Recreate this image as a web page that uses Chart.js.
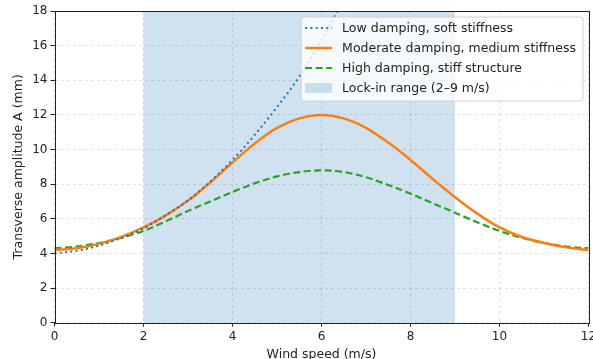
<!DOCTYPE html>
<html>
<head>
<meta charset="utf-8">
<script src="https://cdn.jsdelivr.net/npm/chart.js@4.4.1/dist/chart.umd.min.js"></script>
<style>
  html, body { margin: 0; padding: 0; background: #fff; }
</style>
</head>
<body>
<canvas id="Chart" width="593" height="359"></canvas>
<script>
// values
const windSpeed = [0, 0.5, 1, 1.5, 2, 2.5, 3, 3.5, 4, 4.5, 5, 5.5, 6, 6.5,
    7, 7.5, 8, 8.5, 9, 9.5, 10, 10.5, 11, 11.5, 12];
const lowDamping = [4.0, 4.15, 4.45, 4.9, 5.45, 6.2, 7.05, 8.15, 9.4, 10.85,
    12.45, 14.2, 16.3, 18.7];
const moderateDamping = [4.2, 4.3, 4.55, 4.95, 5.5, 6.2, 7.05, 8.1, 9.25, 10.35,
    11.25, 11.8, 12.0, 11.8, 11.25, 10.4, 9.4, 8.3, 7.25, 6.3, 5.5, 4.95, 4.6, 4.35, 4.2];
const highDamping = [4.3, 4.4, 4.6, 4.9, 5.3, 5.85, 6.45, 7.0, 7.55, 8.05,
    8.45, 8.7, 8.8, 8.7, 8.4, 7.95, 7.45, 6.9, 6.35, 5.8, 5.3, 4.9, 4.6, 4.4, 4.3];
const lockInRange = [2, 9];

const seriesLabels = ['Low damping, soft stiffness', 'Moderate damping, medium stiffness',
    'High damping, stiff structure'];
const lockInLabel = 'Lock-in range (2\u20139 m/s)';
const xTickValues = [0, 2, 4, 6, 8, 10, 12];
const yTickValues = [0, 2, 4, 6, 8, 10, 12, 14, 16, 18];

const FONT = 'DejaVu Sans';
const TEXT = '#222';
const SHADE = 'rgba(31,119,180,0.21)';

const toPoints = (ys) => ys.map((y, i) => ({ x: windSpeed[i], y: y }));

const dataType = {
    datasets: [{
        label: seriesLabels[0],
        data: toPoints(lowDamping),
        borderColor: '#1f77b4',
        borderWidth: 2,
        borderDash: [2, 3.3],
    }, {
        label: seriesLabels[1],
        data: toPoints(moderateDamping),
        borderColor: '#ff7f0e',
        borderWidth: 2.5,
        borderDash: [],
    }, {
        label: seriesLabels[2],
        data: toPoints(highDamping),
        borderColor: '#2ca02c',
        borderWidth: 2.2,
        borderDash: [7, 3.5],
    }],
};

// shaded lock-in band, drawn under the grid
const lockInShade = {
    id: 'lockInShade',
    beforeDraw(chart) {
        const { ctx, chartArea, scales } = chart;
        const x1 = scales.x.getPixelForValue(lockInRange[0]);
        const x2 = scales.x.getPixelForValue(lockInRange[1]);
        ctx.save();
        ctx.fillStyle = SHADE;
        ctx.fillRect(x1, chartArea.top, x2 - x1, chartArea.bottom - chartArea.top);
        ctx.restore();
    },
};

// full box frame + matplotlib-like legend
const frameAndLegend = {
    id: 'frameAndLegend',
    afterDatasetsDraw(chart) {
        const { ctx, chartArea } = chart;
        ctx.save();
        ctx.strokeStyle = '#222';
        ctx.lineWidth = 1;
        ctx.strokeRect(Math.round(chartArea.left) + 0.5, Math.round(chartArea.top) + 0.5,
            Math.round(chartArea.right - chartArea.left), Math.round(chartArea.bottom - chartArea.top));

        ctx.font = '12.5px "' + FONT + '"';
        const labels = seriesLabels.concat([lockInLabel]);
        const textW = Math.max(...labels.map(t => ctx.measureText(t).width));
        const boxW = 41 + textW + 7;
        const boxH = 84;
        const left = chartArea.right - 5.5 - boxW;
        const top = chartArea.top + 6;

        ctx.beginPath();
        ctx.roundRect(left, top, boxW, boxH, 3);
        ctx.fillStyle = 'rgba(255,255,255,0.8)';
        ctx.fill();
        ctx.strokeStyle = '#d0d0d0';
        ctx.lineWidth = 1;
        ctx.stroke();

        ctx.textBaseline = 'middle';
        ctx.textAlign = 'left';
        labels.forEach((txt, i) => {
            const cy = top + 11 + i * 20;
            const ds = chart.data.datasets[i];
            if (ds) {
                ctx.beginPath();
                ctx.strokeStyle = ds.borderColor;
                ctx.lineWidth = ds.borderWidth;
                ctx.setLineDash(ds.borderDash);
                ctx.moveTo(left + 4, cy);
                ctx.lineTo(left + 31, cy);
                ctx.stroke();
                ctx.setLineDash([]);
            } else {
                ctx.fillStyle = SHADE;
                ctx.fillRect(left + 4, cy - 5, 27, 10);
            }
            ctx.fillStyle = TEXT;
            ctx.fillText(txt, left + 41, cy + 0.5);
        });
        ctx.restore();
    },
};

const gridOpts = {
    color: 'rgba(0,0,0,0.14)',
    lineWidth: 0.8,
    tickLength: 4,
    tickColor: '#222',
    tickWidth: 1,
    tickBorderDash: [],
};

const config = {
    type: 'line',
    data: dataType,
    options: {
        responsive: false,
        devicePixelRatio: 1,
        animation: false,
        layout: { padding: { top: 11, right: 4.5, bottom: 0, left: 0 } },
        elements: {
            point: { radius: 0 },
            line: { cubicInterpolationMode: 'monotone', borderCapStyle: 'butt' },
        },
        plugins: {
            legend: { display: false },
            tooltip: { enabled: false },
        },
        scales: {
            x: {
                type: 'linear',
                min: 0,
                max: 12,
                afterBuildTicks: (s) => { s.ticks = xTickValues.map(v => ({ value: v })); },
                afterFit: (s) => { s.height = 36.3; s.paddingLeft = 0; s.paddingRight = 0; },
                grid: gridOpts,
                border: { display: false, dash: [3, 3] },
                ticks: { color: TEXT, font: { family: FONT, size: 12 }, padding: 3, maxRotation: 0 },
                title: {
                    display: true,
                    text: 'Wind speed (m/s)',
                    color: TEXT,
                    font: { family: FONT, size: 12.5 },
                    padding: { top: 0, bottom: -3 },
                },
            },
            y: {
                type: 'linear',
                min: 0,
                max: 18,
                afterBuildTicks: (s) => { s.ticks = yTickValues.map(v => ({ value: v })); },
                afterFit: (s) => { s.width = 54.5; s.paddingTop = 0; s.paddingBottom = 0; },
                grid: gridOpts,
                border: { display: false, dash: [3, 3] },
                ticks: { color: TEXT, font: { family: FONT, size: 12 }, padding: 3 },
                title: {
                    display: true,
                    text: 'Transverse amplitude A (mm)',
                    color: TEXT,
                    font: { family: FONT, size: 12.5 },
                    padding: { top: 11.5, bottom: 0 },
                },
            },
        },
    },
    plugins: [lockInShade, frameAndLegend],
};

const ctx = document.getElementById('Chart').getContext('2d');
const myChart = new Chart(ctx, config);
</script>
</body>
</html>
